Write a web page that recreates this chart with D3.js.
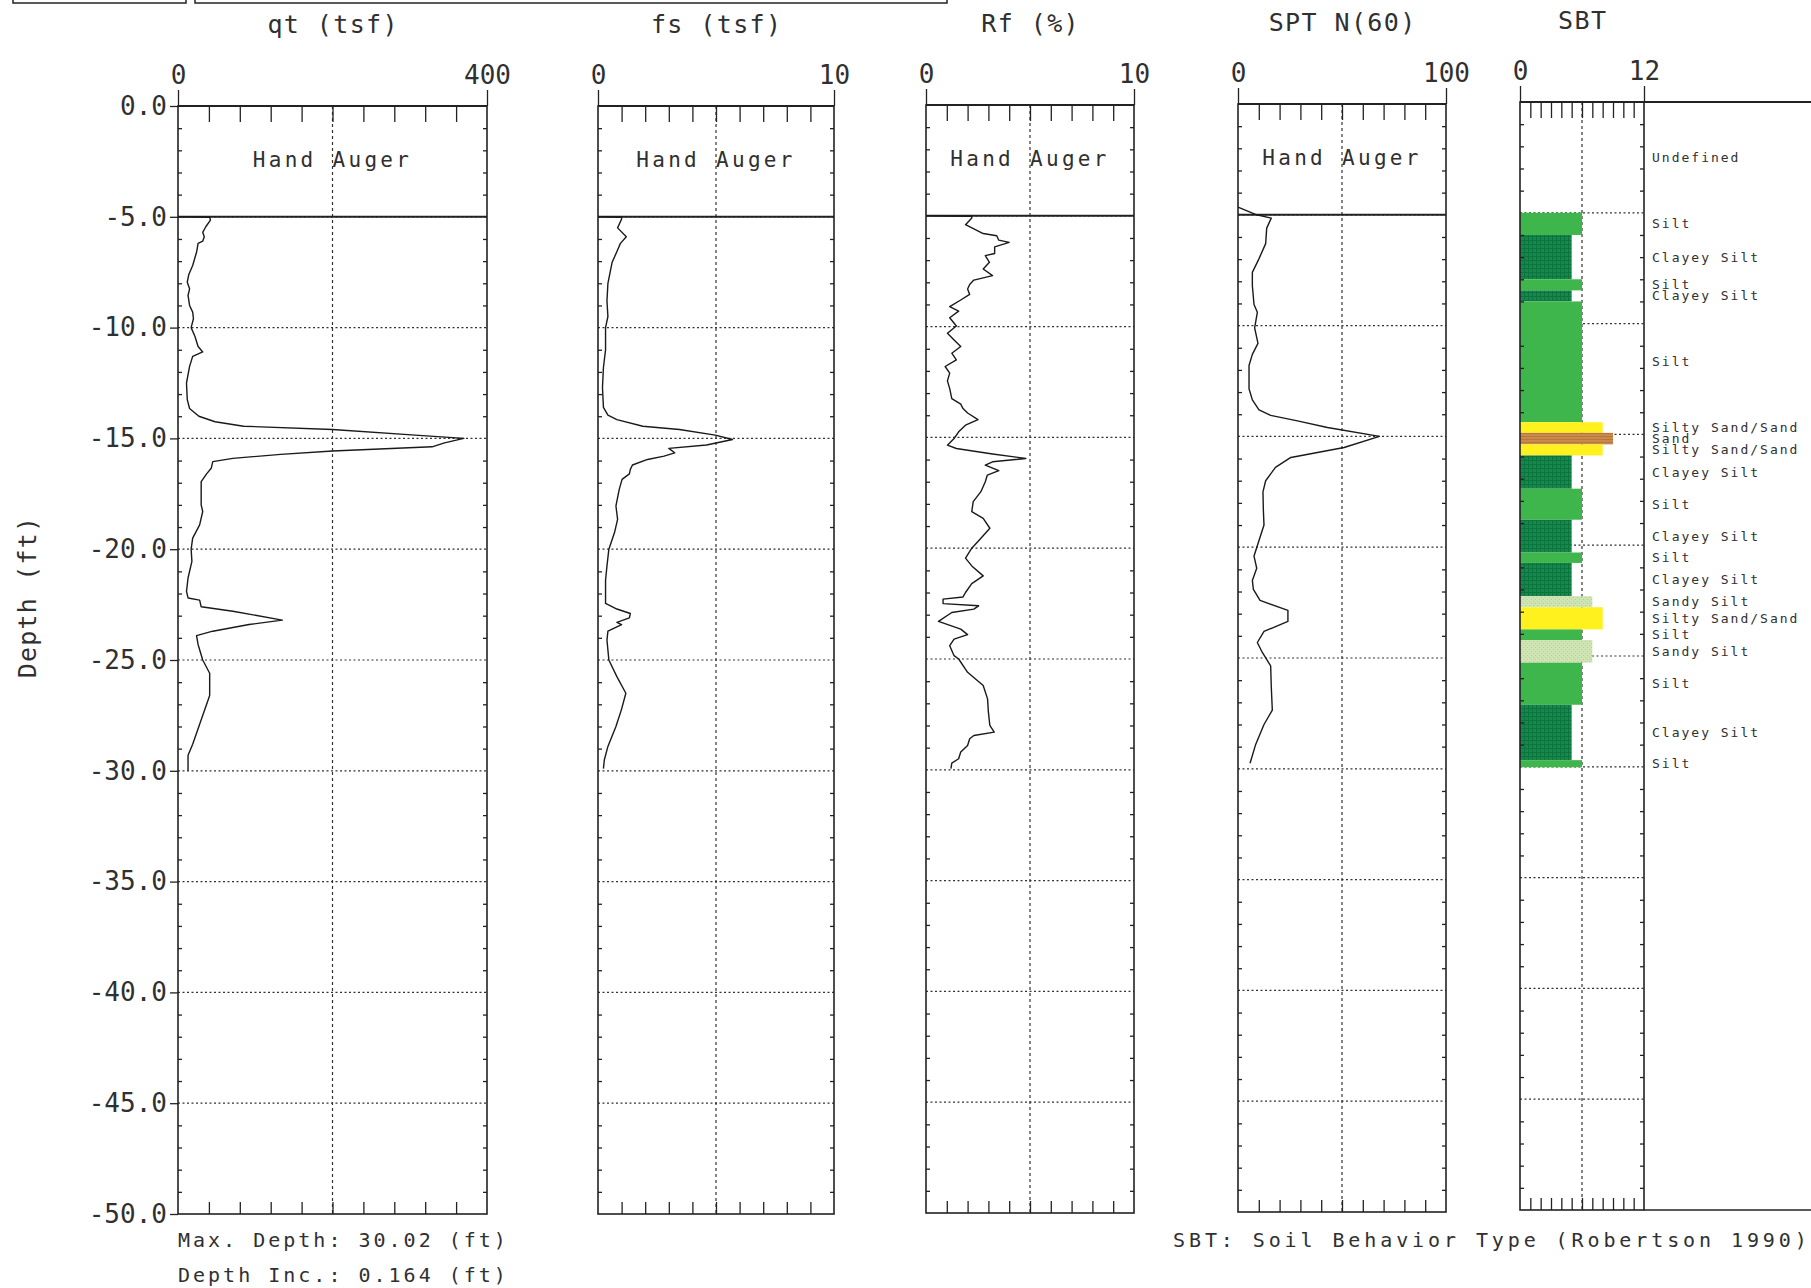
<!DOCTYPE html>
<html>
<head>
<meta charset="utf-8">
<script src="https://cdn.jsdelivr.net/npm/d3@7"></script>
<style>
  html, body { margin: 0; padding: 0; background: #fff; }
  svg { display: block; }
  text { font-family: "DejaVu Sans Mono", monospace; fill: #303030; }
</style>
</head>
<body>
<svg id="chart" width="1811" height="1288"></svg>
<script>
// ---- CPT sounding: [depth (ft), value] ----
const qtProfile = [
  [5.0,0],[5.02,41],[5.15,42],[5.45,36],[5.7,32],[5.9,34],[6.1,32],[6.2,26],[6.6,24],[7.2,19],
  [7.6,14],[7.95,12],[8.25,15],[8.55,13],[9.0,15],[9.3,19],[9.6,20],[10.0,17],[10.4,22],[10.85,26],
  [11.1,32],[11.3,19],[11.75,15],[12.5,11],[13.25,12],[13.65,15],[14.0,27],[14.25,48],[14.45,85],
  [14.6,200],[14.85,307],[15.0,370],[15.2,345],[15.38,329],[15.57,200],[15.72,133],[15.9,71],
  [16.05,45],[16.35,43],[16.6,37],[16.95,30],[18.0,30],[18.3,32],[18.9,28],[19.5,19],[20.0,17],
  [20.55,18],[21.3,13],[21.9,11],[22.2,13],[22.3,28],[22.6,30],[22.8,71],[23.2,135],[23.4,92],
  [23.7,45],[23.9,24],[24.3,26],[25.0,32],[25.6,41],[26.6,41],[27.3,34],[28.1,26],[28.8,19],
  [29.3,13],[30.0,13]
];
const fsProfile = [
  [5.0,0],[5.02,1.0],[5.1,1.0],[5.5,0.83],[5.9,1.2],[6.2,0.95],[6.5,0.83],[7.05,0.6],[8.0,0.42],
  [8.8,0.38],[9.5,0.42],[10.0,0.32],[11.0,0.32],[11.8,0.23],[12.7,0.19],[13.6,0.23],[13.95,0.42],
  [14.15,0.8],[14.45,1.9],[14.6,3.45],[14.85,4.97],[15.05,5.7],[15.3,4.6],[15.45,3.0],[15.65,3.25],
  [15.8,2.8],[15.95,2.1],[16.2,1.46],[16.4,1.37],[16.6,1.33],[16.85,1.02],[17.3,0.9],[18.05,0.76],
  [18.65,0.83],[19.25,0.7],[20.0,0.46],[20.75,0.38],[21.4,0.32],[22.45,0.32],[22.7,0.8],[22.9,1.37],
  [23.1,1.33],[23.3,0.8],[23.4,1.0],[23.7,0.42],[24.1,0.38],[25.0,0.46],[25.75,0.8],[26.5,1.18],
  [27.25,0.99],[28.0,0.76],[28.9,0.42],[29.5,0.27],[29.9,0.23]
];
const rfProfile = [
  [5.0,0],[5.02,2.2],[5.1,2.2],[5.4,1.9],[5.8,2.75],[5.9,3.4],[6.1,3.5],[6.2,4.0],[6.4,3.3],[6.7,3.3],
  [6.8,2.85],[7.1,3.05],[7.4,2.75],[7.7,3.2],[7.9,2.3],[8.1,2.1],[8.3,2.0],[8.55,2.1],[8.8,1.67],
  [9.1,1.14],[9.3,1.57],[9.6,1.14],[9.97,1.46],[10.3,1.03],[10.6,1.35],[10.9,1.67],[11.2,1.24],
  [11.5,1.46],[11.8,0.92],[12.1,1.14],[12.45,1.03],[12.8,1.14],[13.25,1.24],[13.5,1.67],[13.7,1.78],
  [13.9,2.0],[14.2,2.5],[14.45,1.9],[14.75,1.57],[15.05,1.35],[15.35,1.03],[15.5,1.46],[15.75,3.2],
  [15.95,4.8],[16.1,3.2],[16.25,2.85],[16.5,3.5],[16.7,2.95],[17.0,2.85],[17.45,2.64],[17.9,2.27],
  [18.35,2.2],[18.65,2.75],[19.1,3.07],[19.55,2.64],[20.0,2.2],[20.45,1.9],[20.8,2.2],[21.25,2.75],
  [21.6,2.2],[22.0,1.9],[22.2,1.78],[22.3,0.82],[22.5,0.82],[22.6,2.53],[22.75,2.3],[22.9,1.24],
  [23.3,0.6],[23.65,1.67],[23.9,2.0],[24.1,1.35],[24.4,1.14],[24.85,1.35],[25.0,1.57],[25.6,2.0],
  [26.2,2.75],[26.8,2.96],[27.4,3.0],[28.0,3.07],[28.3,3.28],[28.45,2.3],[28.6,2.1],[28.9,2.0],
  [29.2,1.67],[29.5,1.57],[29.7,1.24],[29.95,1.2]
];
const sptProfile = [
  [4.65,0],[5.0,9],[5.15,16],[5.6,13.8],[6.3,13.3],[7.0,10],[7.6,6.9],[8.2,6.9],[9.05,7.7],[9.4,9.3],
  [10.1,8],[10.8,9.6],[11.3,6.9],[11.8,5.3],[12.85,5.3],[13.35,6.9],[13.8,10.1],[14.05,15.7],
  [14.3,28.6],[14.6,43],[15.0,68],[15.5,51],[15.95,25.4],[16.4,18],[17.0,13.3],[17.5,12],[18.35,12.2],
  [19.0,12.5],[19.55,10.6],[20.4,7.7],[20.95,9],[21.5,6.9],[21.9,7.4],[22.4,10.6],[22.85,24],
  [23.35,24],[23.8,12.5],[24.3,9.3],[24.75,11.7],[25.35,15.7],[26.3,16],[27.35,16.5],[28.0,12.5],
  [28.9,8.5],[29.75,5.8]
];

// ---- Soil behaviour type layers: [top ft, bottom ft, zone] ----
const sbtLayers = [
  [0,5.0,0],[5.0,6.0,6],[6.0,8.0,5],[8.0,8.5,6],[8.5,9.0,5],[9.0,14.45,6],[14.45,14.93,8],
  [14.93,15.45,9],[15.45,15.95,8],[15.95,17.45,5],[17.45,18.85,6],[18.85,20.33,5],[20.33,20.8,6],
  [20.8,22.3,5],[22.3,22.8,7],[22.8,23.8,8],[23.8,24.28,6],[24.28,25.3,7],[25.3,27.2,6],
  [27.2,29.7,5],[29.7,30.02,6]
];
const sbtZones = [0, 5, 6, 7, 8, 9];
const sbtNames = ["Undefined", "Clayey Silt", "Silt", "Sandy Silt", "Silty Sand/Sand", "Sand"];

// ---- axis values and notes ----
const depthMajor = [0, 5, 10, 15, 20, 25, 30, 35, 40, 45, 50];
const depthMinor = d3.range(1, 50).filter(d => d % 5 !== 0);
const handAugerDepth = 5.0;
const notes = ["Max. Depth: 30.02 (ft)", "Depth Inc.: 0.164 (ft)"];
const sbtNote = "SBT: Soil Behavior Type (Robertson 1990)";

// ---- layout ----
const PH = 1108;
const panels = [
  { title: "qt (tsf)",  max: 400, x0: 178,  x1: 487,  top: 106, data: qtProfile },
  { title: "fs (tsf)",  max: 10,  x0: 598,  x1: 834,  top: 106, data: fsProfile },
  { title: "Rf (%)",    max: 10,  x0: 926,  x1: 1134, top: 105, data: rfProfile },
  { title: "SPT N(60)", max: 100, x0: 1238, x1: 1446, top: 104, data: sptProfile }
];
const sbtPanel = { title: "SBT", max: 12, x0: 1520, x1: 1644, top: 102 };
const INK = "#222";

const svg = d3.select("#chart");

// fills for the soil type bars
const defs = svg.append("defs");
const pClay = defs.append("pattern").attr("id", "clayey").attr("patternUnits", "userSpaceOnUse")
  .attr("width", 4).attr("height", 4);
pClay.append("rect").attr("width", 4).attr("height", 4).attr("fill", "#138a4c");
pClay.append("rect").attr("width", 4).attr("height", 1).attr("fill", "#0d733f");
pClay.append("rect").attr("width", 1).attr("height", 4).attr("fill", "#0d733f");
const pSandySilt = defs.append("pattern").attr("id", "sandysilt").attr("patternUnits", "userSpaceOnUse")
  .attr("width", 4).attr("height", 4);
pSandySilt.append("rect").attr("width", 4).attr("height", 4).attr("fill", "#cfe4b3");
pSandySilt.append("rect").attr("x", 1).attr("y", 1).attr("width", 1).attr("height", 1).attr("fill", "#b6d293");
pSandySilt.append("rect").attr("x", 3).attr("y", 3).attr("width", 1).attr("height", 1).attr("fill", "#b6d293");
const pSand = defs.append("pattern").attr("id", "sand").attr("patternUnits", "userSpaceOnUse")
  .attr("width", 4).attr("height", 3);
pSand.append("rect").attr("width", 4).attr("height", 3).attr("fill", "#c98a4e");
pSand.append("rect").attr("y", 1).attr("width", 4).attr("height", 1).attr("fill", "#b87638");

const zoneFill = d3.scaleOrdinal()
  .domain(sbtZones)
  .range(["none", "url(#clayey)", "#3fb64b", "url(#sandysilt)", "#fff11d", "url(#sand)"]);
const zoneName = d3.scaleOrdinal().domain(sbtZones).range(sbtNames);

// header boxes clipped by the page edge
svg.append("rect").attr("x", 13).attr("y", -30).attr("width", 173).attr("height", 33)
  .attr("fill", "none").attr("stroke", INK).attr("stroke-width", 1.5);
svg.append("rect").attr("x", 195).attr("y", -30).attr("width", 752).attr("height", 33)
  .attr("fill", "none").attr("stroke", INK).attr("stroke-width", 1.5);

function styleAxis(g) {
  g.select(".domain").remove();
  g.selectAll(".tick line").attr("stroke", INK).attr("stroke-width", 1.3);
  g.selectAll(".tick text").attr("font-family", "DejaVu Sans Mono").attr("fill", "#303030");
}

function drawFrame(p, x, y) {
  const g = svg.append("g");
  const [x0, x1] = x.range();
  const [y0, y1] = y.range();

  // dotted grid: every 5 ft and the mid value
  g.append("g").selectAll("line").data(depthMajor.slice(1, -1)).join("line")
    .attr("x1", x0).attr("x2", x1).attr("y1", d => y(d)).attr("y2", d => y(d))
    .attr("stroke", "#333").attr("stroke-width", 1.2).attr("stroke-dasharray", "2,2.5");
  g.append("line")
    .attr("x1", x(p.max / 2)).attr("x2", x(p.max / 2)).attr("y1", y0).attr("y2", y1)
    .attr("stroke", "#333").attr("stroke-width", 1.2).attr("stroke-dasharray", "3,3");
  return g;
}

function drawBorder(p, x, y, nTop) {
  const g = svg.append("g");
  const [x0, x1] = x.range();
  const [y0, y1] = y.range();
  const inner = d3.range(1, nTop).map(i => p.max * i / nTop);

  // top: axis end labels and inner ticks
  g.append("g").attr("transform", `translate(0,${y0})`)
    .call(d3.axisTop(x).tickValues([0, p.max]).tickSize(16).tickPadding(6).tickFormat(d3.format("d")))
    .call(styleAxis)
    .call(a => a.selectAll(".tick text").attr("font-size", 26));
  g.append("g").attr("transform", `translate(0,${y0})`)
    .call(d3.axisTop(x).tickValues(inner).tickSize(-16).tickFormat(""))
    .call(styleAxis);
  g.append("g").attr("transform", `translate(0,${y1})`)
    .call(d3.axisBottom(x).tickValues(inner).tickSize(-12).tickFormat(""))
    .call(styleAxis);

  // side ticks every foot
  g.append("g").attr("transform", `translate(${x0},0)`)
    .call(d3.axisLeft(y).tickValues(depthMinor).tickSize(-4).tickFormat(""))
    .call(styleAxis);
  g.append("g").attr("transform", `translate(${x1},0)`)
    .call(d3.axisRight(y).tickValues(depthMinor).tickSize(-4).tickFormat(""))
    .call(styleAxis);

  // frame
  g.append("rect").attr("x", x0).attr("y", y0).attr("width", x1 - x0).attr("height", y1 - y0)
    .attr("fill", "none").attr("stroke", INK).attr("stroke-width", 1.6);
  g.append("line").attr("x1", x0).attr("x2", x1).attr("y1", y0).attr("y2", y0)
    .attr("stroke", INK).attr("stroke-width", 2.2);

  // panel title
  svg.append("text").attr("x", (x0 + x1) / 2 + 0.7).attr("y", p.top - 73)
    .attr("text-anchor", "middle").attr("font-size", 25).attr("letter-spacing", 1.4)
    .text(p.title);
  return g;
}

// ---- measurement panels ----
panels.forEach((p, i) => {
  const x = d3.scaleLinear().domain([0, p.max]).range([p.x0, p.x1]);
  const y = d3.scaleLinear().domain([0, 50]).range([p.top, p.top + PH]);
  drawFrame(p, x, y);

  // hand auger zone boundary and label
  svg.append("line").attr("x1", p.x0).attr("x2", p.x1)
    .attr("y1", y(handAugerDepth)).attr("y2", y(handAugerDepth))
    .attr("stroke", INK).attr("stroke-width", 2);
  svg.append("text").attr("x", (p.x0 + p.x1) / 2).attr("y", y(2.75))
    .attr("text-anchor", "middle").attr("font-size", 21).attr("letter-spacing", 3.3)
    .text("Hand Auger");

  // measured profile
  const line = d3.line().x(d => x(d[1])).y(d => y(d[0]));
  svg.append("path").datum(p.data).attr("d", line)
    .attr("fill", "none").attr("stroke", "#1a1a1a").attr("stroke-width", 1.4)
    .attr("stroke-linejoin", "round");

  drawBorder(p, x, y, 10);

  if (i === 0) {
    svg.append("g").attr("transform", `translate(${p.x0},0)`)
      .call(d3.axisLeft(y).tickValues(depthMajor).tickSize(8).tickPadding(3)
        .tickFormat(d => (d === 0 ? 0 : -d).toFixed(1)))
      .call(styleAxis)
      .call(a => a.selectAll(".tick text").attr("font-size", 26));
  }
});

// ---- soil behaviour type panel ----
{
  const p = sbtPanel;
  const x = d3.scaleLinear().domain([0, p.max]).range([p.x0, p.x1]);
  const y = d3.scaleLinear().domain([0, 50]).range([p.top, p.top + PH]);
  drawFrame(p, x, y);

  svg.append("g").selectAll("rect").data(sbtLayers.filter(d => d[2] > 0)).join("rect")
    .attr("x", x(0)).attr("y", d => y(d[0]))
    .attr("width", d => x(d[2]) - x(0)).attr("height", d => y(d[1]) - y(d[0]))
    .attr("fill", d => zoneFill(d[2]));

  drawBorder(p, x, y, 12);

  // top and bottom rules run across the label column
  svg.append("line").attr("x1", p.x1).attr("x2", 1811).attr("y1", y(0)).attr("y2", y(0))
    .attr("stroke", INK).attr("stroke-width", 2);
  svg.append("line").attr("x1", p.x1).attr("x2", 1811).attr("y1", y(50)).attr("y2", y(50))
    .attr("stroke", INK).attr("stroke-width", 1.6);

  svg.append("g").selectAll("text").data(sbtLayers).join("text")
    .attr("x", p.x1 + 8).attr("y", d => y((d[0] + d[1]) / 2))
    .attr("dominant-baseline", "central")
    .attr("font-size", 13).attr("letter-spacing", 2).attr("fill", "#222")
    .text(d => zoneName(d[2]));

  svg.append("text").attr("x", 1173).attr("y", 1247)
    .attr("font-size", 20).attr("letter-spacing", 3.9).text(sbtNote);
}

// ---- depth axis title and notes ----
svg.append("text").attr("transform", "translate(36,597) rotate(-90)")
  .attr("text-anchor", "middle").attr("font-size", 25).attr("letter-spacing", 1.2)
  .text("Depth (ft)");
svg.append("g").selectAll("text").data(notes).join("text")
  .attr("x", 178).attr("y", (d, i) => 1247 + i * 35)
  .attr("font-size", 20).attr("letter-spacing", 3)
  .text(d => d);
</script>
</body>
</html>
